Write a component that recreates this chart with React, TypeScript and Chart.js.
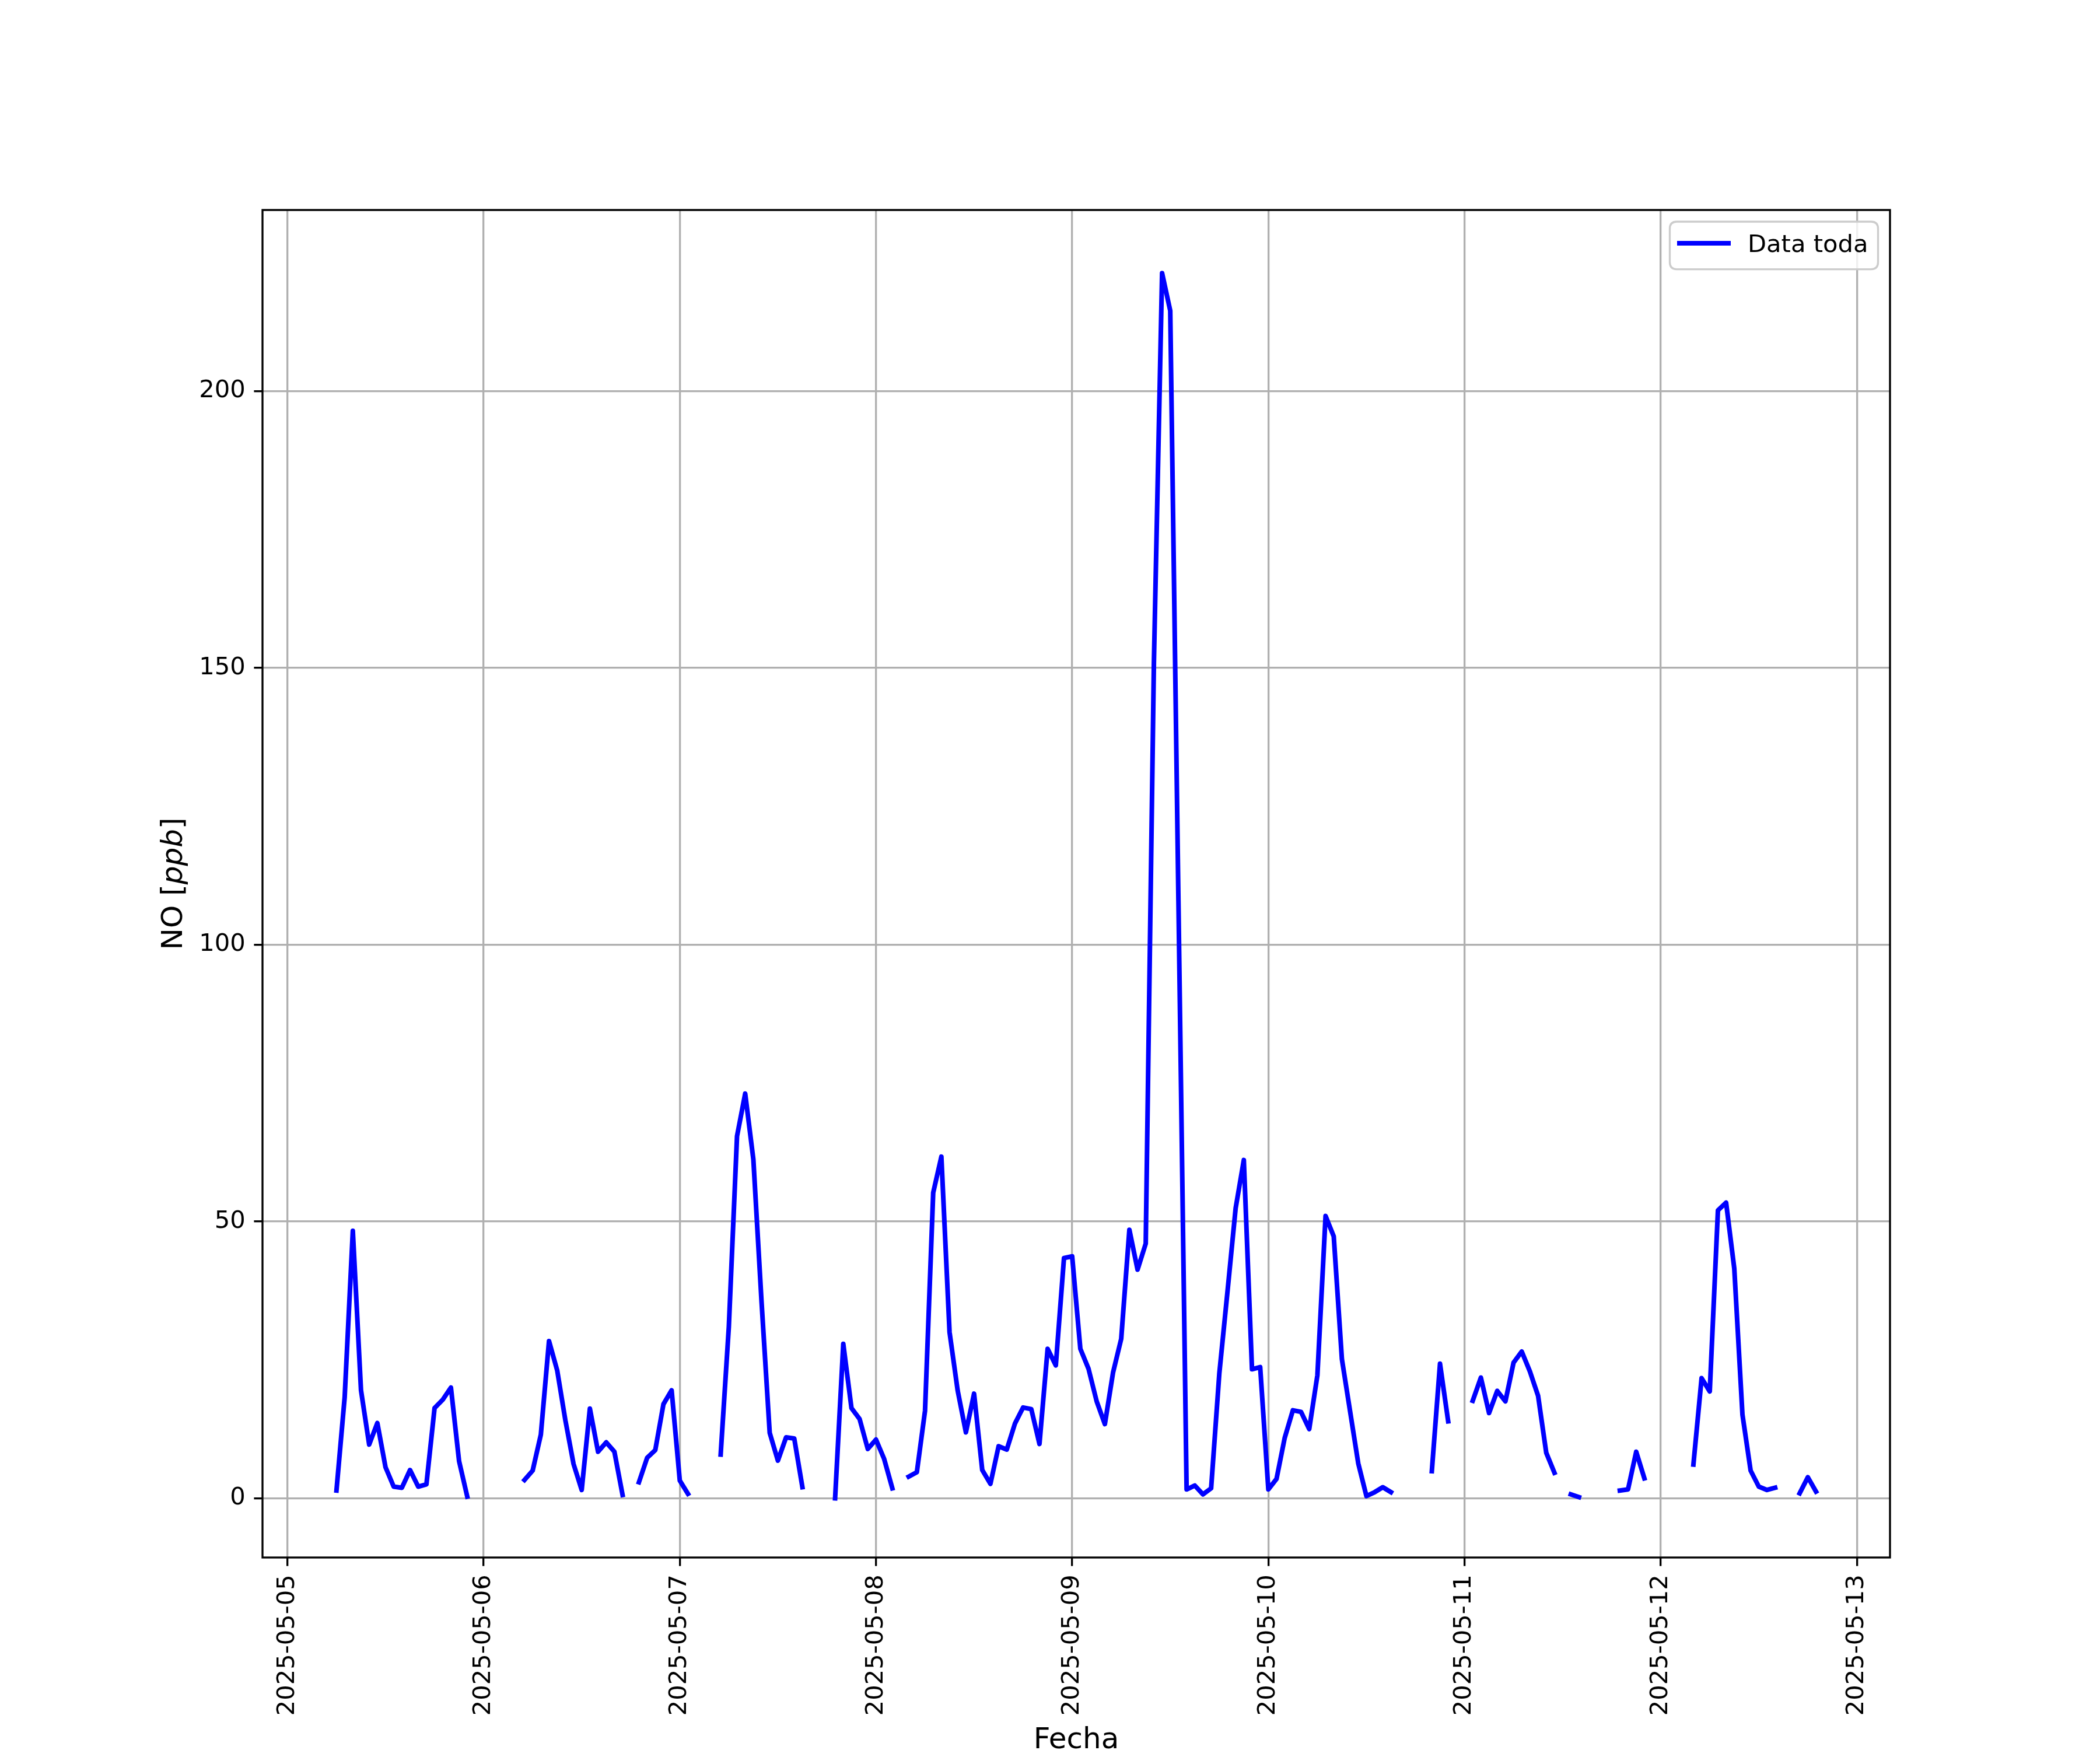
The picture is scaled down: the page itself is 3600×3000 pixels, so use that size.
import React, { useEffect, useRef } from 'react';
import { Chart, registerables } from 'chart.js';

Chart.register(...registerables);

// ---- data (hourly NO values, null = missing) ----
const seriesLabel = 'Data toda';
const xAxisTitle = 'Fecha';
const yAxisTitleParts = ['NO [', 'ppb', ']'];

const xTickLabels = ['2025-05-05', '2025-05-06', '2025-05-07', '2025-05-08', '2025-05-09', '2025-05-10', '2025-05-11', '2025-05-12', '2025-05-13'];
const xTickHours = [0, 24, 48, 72, 96, 120, 144, 168, 192];
const yTicks = [0, 50, 100, 150, 200];

const may05 = [null, null, null, null, null, null, 1.4, 18.2, 48.3, 19.5, 9.7, 13.6, 5.6, 2.1, 1.9, 5.1, 2.1, 2.5, 16.3, 17.8, 20.0, 6.7, 0.3, null];
const may06 = [null, null, null, null, null, 3.3, 5.0, 11.5, 28.4, 23.1, 14.1, 6.2, 1.5, 16.2, 8.4, 10.1, 8.4, 0.6, null, 2.9, 7.3, 8.7, 17.0, 19.5];
const may07 = [3.2, 0.8, null, null, null, 7.9, 31.0, 65.4, 73.1, 61.2, 35.5, 11.8, 6.8, 11.0, 10.8, 2.0, null, null, null, 0.0, 27.9, 16.3, 14.3, 8.9];
const may08 = [10.6, 7.1, 1.8, null, 3.9, 4.7, 15.8, 55.2, 61.7, 30.0, 19.4, 11.9, 18.9, 5.1, 2.6, 9.4, 8.8, 13.5, 16.4, 16.1, 9.8, 27.0, 24.0, 43.4];
const may09 = [43.7, 27.0, 23.4, 17.5, 13.4, 22.7, 28.8, 48.5, 41.3, 46.0, 151.0, 221.3, 214.5, 108.0, 1.6, 2.3, 0.7, 1.8, 22.5, 37.3, 52.4, 61.1, 23.3, 23.7];
const may10 = [1.6, 3.5, 10.9, 15.9, 15.6, 12.5, 22.2, 51.0, 47.3, 25.1, 15.7, 6.3, 0.4, 1.1, 2.0, 1.1, null, null, null, null, 4.9, 24.3, 13.9, null];
const may11 = [null, 17.6, 21.8, 15.4, 19.4, 17.5, 24.5, 26.5, 22.9, 18.5, 8.2, 4.6, null, 0.7, 0.2, null, null, null, null, 1.4, 1.6, 8.4, 3.6, null];
const may12 = [null, null, null, null, 6.1, 21.7, 19.3, 52.0, 53.4, 41.5, 15.1, 5.0, 2.1, 1.5, 1.9, null, null, 0.9, 3.8, 1.2, null, null, null, null];

const days: (number | null)[][] = [may05, may06, may07, may08, may09, may10, may11, may12];

const FONT = '"DejaVu Sans", "Liberation Sans", sans-serif';

export default function App() {
  const ref = useRef<HTMLCanvasElement>(null);

  useEffect(() => {
    document.body.style.margin = '0';
    const canvas = ref.current!;
    const points: { x: number; y: number | null }[] = [];
    days.forEach((arr, d) => arr.forEach((v, h) => points.push({ x: d * 24 + h, y: v })));

    const mplPlugin = {
      id: 'mplDecor',
      afterDraw(chart: any) {
        const ctx = chart.ctx as CanvasRenderingContext2D;
        const a = chart.chartArea;
        ctx.save();
        // spines
        ctx.strokeStyle = '#000000';
        ctx.lineWidth = 3.33;
        ctx.lineJoin = 'miter';
        ctx.strokeRect(a.left, a.top, a.right - a.left, a.bottom - a.top);

        // legend
        const lx = 2862.5, ly = 380, lw = 357, lh = 81.6, r = 12;
        ctx.beginPath();
        ctx.moveTo(lx + r, ly);
        ctx.lineTo(lx + lw - r, ly);
        ctx.quadraticCurveTo(lx + lw, ly, lx + lw, ly + r);
        ctx.lineTo(lx + lw, ly + lh - r);
        ctx.quadraticCurveTo(lx + lw, ly + lh, lx + lw - r, ly + lh);
        ctx.lineTo(lx + r, ly + lh);
        ctx.quadraticCurveTo(lx, ly + lh, lx, ly + lh - r);
        ctx.lineTo(lx, ly + r);
        ctx.quadraticCurveTo(lx, ly, lx + r, ly);
        ctx.closePath();
        ctx.fillStyle = 'rgba(255,255,255,0.8)';
        ctx.fill();
        ctx.strokeStyle = '#cccccc';
        ctx.lineWidth = 3.33;
        ctx.stroke();
        ctx.beginPath();
        ctx.moveTo(2875, 417);
        ctx.lineTo(2967, 417);
        ctx.strokeStyle = '#0000ff';
        ctx.lineWidth = 8;
        ctx.lineCap = 'butt';
        ctx.stroke();
        ctx.fillStyle = '#000000';
        ctx.font = `41.67px ${FONT}`;
        ctx.textAlign = 'left';
        ctx.textBaseline = 'alphabetic';
        ctx.fillText(seriesLabel, 2996, 432);

        // x axis title
        ctx.font = `50px ${FONT}`;
        ctx.textAlign = 'center';
        ctx.fillText(xAxisTitle, (a.left + a.right) / 2, 2996.5);

        // y axis title (mixed regular / italic)
        const fonts = [`50px ${FONT}`, `italic 50px ${FONT}`, `50px ${FONT}`];
        const widths = yAxisTitleParts.map((t, i) => {
          ctx.font = fonts[i];
          return ctx.measureText(t).width;
        });
        const total = widths.reduce((s, w) => s + w, 0);
        ctx.translate(311.7, (a.top + a.bottom) / 2);
        ctx.rotate(-Math.PI / 2);
        ctx.textAlign = 'left';
        let cx = -total / 2;
        yAxisTitleParts.forEach((t, i) => {
          ctx.font = fonts[i];
          ctx.fillText(t, cx, 0);
          cx += widths[i];
        });
        ctx.restore();
      },
    };

    const chart = new Chart(canvas, {
      type: 'line',
      data: {
        datasets: [
          {
            label: seriesLabel,
            data: points as any,
            borderColor: '#0000ff',
            backgroundColor: '#0000ff',
            borderWidth: 8,
            pointRadius: 0,
            pointHoverRadius: 0,
            tension: 0,
            spanGaps: false,
            fill: false,
            borderCapStyle: 'square',
            borderJoinStyle: 'round',
          },
        ],
      },
      options: {
        responsive: false,
        animation: false,
        devicePixelRatio: 1,
        events: [],
        layout: { padding: { top: 360, right: 360, left: 0, bottom: 0 } },
        plugins: { legend: { display: false }, tooltip: { enabled: false } },
        scales: {
          x: {
            type: 'linear',
            min: -3.05,
            max: 196.05,
            afterFit: (s: any) => {
              s.height = 330;
            },
            afterBuildTicks: (s: any) => {
              s.ticks = xTickHours.map((v) => ({ value: v }));
            },
            grid: { color: '#b0b0b0', lineWidth: 3.33, tickColor: '#000000', tickLength: 14.6, tickWidth: 3.33, drawTicks: true },
            border: { display: false },
            ticks: {
              autoSkip: false,
              minRotation: 90,
              maxRotation: 90,
              padding: 14.6,
              color: '#000000',
              font: { family: FONT, size: 41.67 },
              callback: (v: any) => {
                const i = xTickHours.indexOf(Number(v));
                return i >= 0 ? xTickLabels[i] : '';
              },
            },
          },
          y: {
            type: 'linear',
            min: -10.7,
            max: 232.7,
            afterFit: (s: any) => {
              s.width = 450;
            },
            afterBuildTicks: (s: any) => {
              s.ticks = yTicks.map((v) => ({ value: v }));
            },
            grid: { color: '#b0b0b0', lineWidth: 3.33, tickColor: '#000000', tickLength: 14.6, tickWidth: 3.33, drawTicks: true },
            border: { display: false },
            ticks: {
              padding: 14.6,
              color: '#000000',
              font: { family: FONT, size: 41.67 },
              callback: (v: any) => String(v),
            },
          },
        },
      },
      plugins: [mplPlugin],
    });
    return () => chart.destroy();
  }, []);

  return <canvas ref={ref} width={3600} height={3000} style={{ display: 'block' }} />;
}
